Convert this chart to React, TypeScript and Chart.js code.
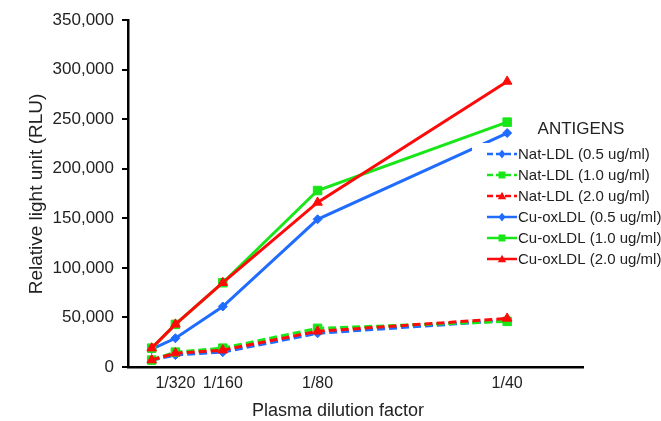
import React, { useEffect, useRef } from "react";
import { Chart, registerables } from "chart.js";

Chart.register(...registerables);

const dilutionValues = [1 / 640, 1 / 320, 1 / 160, 1 / 80, 1 / 40];
const xTickValues = [1 / 320, 1 / 160, 1 / 80, 1 / 40];
const xTickLabels = ["1/320", "1/160", "1/80", "1/40"];

const natLdl05 = [7000, 12000, 15000, 34000, 47000];
const natLdl10 = [7000, 15000, 19000, 39000, 46000];
const natLdl20 = [7000, 14000, 17000, 36000, 49000];
const cuOxLdl05 = [18000, 29000, 61000, 149000, 236000];
const cuOxLdl10 = [19000, 43000, 85000, 178000, 247000];
const cuOxLdl20 = [19000, 43000, 85000, 166000, 288000];

const seriesNames = [
  "Nat-LDL (0.5 ug/ml)",
  "Nat-LDL (1.0 ug/ml)",
  "Nat-LDL (2.0 ug/ml)",
  "Cu-oxLDL (0.5 ug/ml)",
  "Cu-oxLDL (1.0 ug/ml)",
  "Cu-oxLDL (2.0 ug/ml)",
];
const seriesValues = [natLdl05, natLdl10, natLdl20, cuOxLdl05, cuOxLdl10, cuOxLdl20];

const BLUE = "#1f6cff";
const GREEN = "#19e619";
const RED = "#ff0a0a";
const seriesColors = [BLUE, GREEN, RED, BLUE, GREEN, RED];
const seriesMarkers = ["rectRot", "rect", "triangle", "rectRot", "rect", "triangle"];
const seriesDashed = [true, true, true, false, false, false];
const seriesRadius = [4.5, 6, 5.5, 4.5, 6, 5.5];
const seriesOrder = [5, 4, 3, 2, 1, 0];

const yTitle = "Relative light unit (RLU)";
const xTitle = "Plasma dilution factor";
const legendTitle = "ANTIGENS";

const FONT = "'Liberation Sans', Arial, sans-serif";
const TEXT = "#222";

function drawMarker(ctx: CanvasRenderingContext2D, kind: string, x: number, y: number, s: number, color: string) {
  ctx.save();
  ctx.setLineDash([]);
  ctx.fillStyle = color;
  ctx.beginPath();
  if (kind === "rect") {
    ctx.rect(x - s, y - s, 2 * s, 2 * s);
  } else if (kind === "rectRot") {
    ctx.moveTo(x, y - s * 1.25);
    ctx.lineTo(x + s, y);
    ctx.lineTo(x, y + s * 1.25);
    ctx.lineTo(x - s, y);
    ctx.closePath();
  } else {
    ctx.moveTo(x, y - s * 1.2);
    ctx.lineTo(x + s * 1.2, y + s * 0.9);
    ctx.lineTo(x - s * 1.2, y + s * 0.9);
    ctx.closePath();
  }
  ctx.fill();
  ctx.restore();
}

const decorPlugin = {
  id: "decor",
  afterDraw(chart: any) {
    const ctx: CanvasRenderingContext2D = chart.ctx;
    ctx.save();
    // axis titles
    ctx.fillStyle = TEXT;
    ctx.textAlign = "center";
    ctx.textBaseline = "middle";
    ctx.font = `19px ${FONT}`;
    ctx.save();
    ctx.translate(37, 194);
    ctx.rotate(-Math.PI / 2);
    ctx.fillText(yTitle, 0, 0);
    ctx.restore();
    ctx.font = `18px ${FONT}`;
    ctx.fillText(xTitle, 338, 411);

    // legend box
    ctx.fillStyle = "#fff";
    ctx.fillRect(472, 143, 189, 125);
    ctx.fillStyle = TEXT;
    ctx.font = `17px ${FONT}`;
    ctx.textAlign = "center";
    ctx.fillText(legendTitle, 581, 129);

    ctx.font = `15px ${FONT}`;
    ctx.textAlign = "left";
    for (let i = 0; i < seriesNames.length; i++) {
      const y = 154 + i * 21;
      const c = seriesColors[i];
      ctx.strokeStyle = c;
      ctx.lineWidth = 2.5;
      ctx.setLineDash(seriesDashed[i] ? [6, 3] : []);
      ctx.beginPath();
      ctx.moveTo(487, y);
      ctx.lineTo(517, y);
      ctx.stroke();
      drawMarker(ctx, seriesMarkers[i], 502, y, 3.5, c);
      ctx.fillStyle = TEXT;
      ctx.fillText(seriesNames[i], 518, y + 1);
    }
    ctx.restore();
  },
};

export default function App() {
  const canvasRef = useRef<HTMLCanvasElement | null>(null);

  useEffect(() => {
    document.body.style.margin = "0";
    const canvas = canvasRef.current;
    if (!canvas) return;

    const datasets = seriesNames.map((name, i) => ({
      label: name,
      data: seriesValues[i].map((v, j) => ({ x: dilutionValues[j], y: v })),
      borderColor: seriesColors[i],
      backgroundColor: seriesColors[i],
      borderWidth: 3,
      borderDash: seriesDashed[i] ? [8, 4] : [],
      pointStyle: seriesMarkers[i],
      pointRadius: seriesRadius[i],
      pointBorderWidth: 1,
      pointBackgroundColor: seriesColors[i],
      pointBorderColor: seriesColors[i],
      tension: 0,
      order: seriesOrder[i],
    }));

    const chart = new Chart(canvas, {
      type: "line",
      data: { datasets },
      options: {
        animation: false,
        responsive: false,
        maintainAspectRatio: false,
        layout: { padding: { top: 20, right: 78, left: 0, bottom: 0 } },
        plugins: {
          legend: { display: false },
          tooltip: { enabled: false },
          title: { display: false },
        },
        scales: {
          x: {
            type: "linear",
            min: 0,
            max: 0.03,
            afterFit: (s: any) => {
              s.height = 54;
            },
            afterBuildTicks: (s: any) => {
              s.ticks = xTickValues.map((v) => ({ value: v }));
            },
            border: { display: true, color: "#000", width: 2.5 },
            grid: { display: true, drawOnChartArea: false, drawTicks: false },
            ticks: {
              padding: 7,
              color: TEXT,
              font: { family: FONT, size: 16 },
              maxRotation: 0,
              autoSkip: false,
              callback: (v: any) => {
                const idx = xTickValues.findIndex((t) => Math.abs(t - v) < 1e-9);
                return idx >= 0 ? xTickLabels[idx] : "";
              },
            },
          },
          y: {
            type: "linear",
            min: 0,
            max: 350000,
            afterFit: (s: any) => {
              s.width = 128;
            },
            border: { display: true, color: "#000", width: 2.5 },
            grid: {
              display: true,
              drawOnChartArea: false,
              drawTicks: true,
              tickLength: 6,
              color: "#000",
              lineWidth: 2,
            },
            ticks: {
              stepSize: 50000,
              padding: 8,
              color: TEXT,
              font: { family: FONT, size: 17 },
              callback: (v: any) => Number(v).toLocaleString("en-US"),
            },
          },
        },
      },
      plugins: [decorPlugin],
    } as any);

    return () => chart.destroy();
  }, []);

  return (
    <div style={{ width: 661, height: 421 }}>
      <canvas ref={canvasRef} width={661} height={421} style={{ display: "block" }} />
    </div>
  );
}
